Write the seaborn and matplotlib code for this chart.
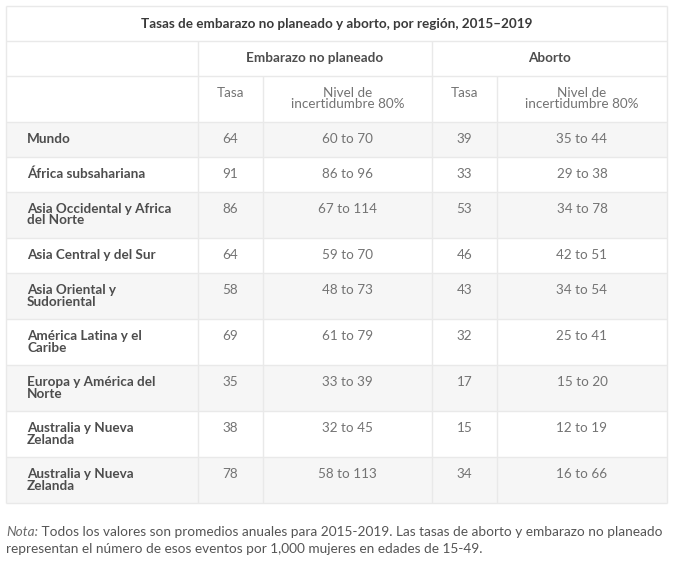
import matplotlib
matplotlib.use("Agg")
import matplotlib.pyplot as plt
from matplotlib.patches import Rectangle
import seaborn as sns

# ---- data ----
title = "Tasas de embarazo no planeado y aborto, por región, 2015–2019"
group_headers = ["Embarazo no planeado", "Aborto"]
sub_headers = ["Tasa", "Nivel de\nincertidumbre 80%", "Tasa", "Nivel de\nincertidumbre 80%"]
regions = ["Mundo", "África subsahariana", "Asia Occidental y Africa\ndel Norte",
           "Asia Central y del Sur", "Asia Oriental y\nSudoriental",
           "América Latina y el\nCaribe", "Europa y América del\nNorte",
           "Australia y Nueva\nZelanda", "Australia y Nueva\nZelanda"]
emb_rate = [64, 91, 86, 64, 58, 69, 35, 38, 78]
emb_lo = [60, 86, 67, 59, 48, 61, 33, 32, 58]
emb_hi = [70, 96, 114, 70, 73, 79, 39, 45, 113]
ab_rate = [39, 33, 53, 46, 43, 32, 17, 15, 34]
ab_lo = [35, 29, 34, 42, 34, 25, 15, 12, 16]
ab_hi = [44, 38, 78, 51, 54, 41, 20, 19, 66]
note_label = "Nota:"
note_text_1 = " Todos los valores son promedios anuales para 2015-2019. Las tasas de aborto y embarazo no planeado"
note_text_2 = "representan el número de esos eventos por 1,000 mujeres en edades de 15-49."

sns.set_theme(style="white")
plt.rcParams['font.family'] = ['Lato', 'DejaVu Sans']

fig = plt.figure(figsize=(6.8, 5.65), dpi=100)
ax = fig.add_axes([0, 0, 1, 1])
ax.set_xlim(0, 680)
ax.set_ylim(565, 0)
ax.axis("off")

BORDER = "#e9e9e9"
ALT = "#f6f6f6"
LABEL_C = "#4d4d4d"
NUM_C = "#737373"
FS = 9.7

cols = [6, 198, 263, 432, 497, 667]
left, right = cols[0], cols[-1]
top = 6
title_h, h1_h, h2_h = 35, 35, 46

def hline(y, x0=left, x1=right):
    ax.plot([x0, x1], [y, y], color=BORDER, lw=1, solid_capstyle="butt", zorder=2)

def vline(x, y0, y1):
    ax.plot([x, x], [y0, y1], color=BORDER, lw=1, solid_capstyle="butt", zorder=2)

def multiline(x, ytop, s, ha, color, weight, step=11.5):
    for i, line in enumerate(s.split("\n")):
        ax.text(x, ytop + i * step, line, ha=ha, va="top", color=color,
                fontsize=FS, fontweight=weight, zorder=3)

# header
y_title_bot = top + title_h
y_h1_bot = y_title_bot + h1_h
y_h2_bot = y_h1_bot + h2_h
ax.text((left + right) / 2, top + title_h / 2, title, ha="center", va="center",
        fontsize=FS, fontweight="bold", color="#3a3a3a", zorder=3)
ax.text((cols[1] + cols[3]) / 2, y_title_bot + h1_h / 2, group_headers[0], ha="center",
        va="center", fontsize=FS, fontweight="bold", color=LABEL_C, zorder=3)
ax.text((cols[3] + cols[5]) / 2, y_title_bot + h1_h / 2, group_headers[1], ha="center",
        va="center", fontsize=FS, fontweight="bold", color=LABEL_C, zorder=3)
for j, sh in enumerate(sub_headers):
    cx = (cols[j + 1] + cols[j + 2]) / 2
    multiline(cx, y_h1_bot + 11, sh, "center", NUM_C, "normal")

# body
y = y_h2_bot
row_tops = []
for i, reg in enumerate(regions):
    nlines = reg.count("\n") + 1
    h = 35 if nlines == 1 else 46
    if i % 2 == 0:
        ax.add_patch(Rectangle((left, y), right - left, h, facecolor=ALT,
                               edgecolor="none", zorder=1))
    ytxt = y + 11
    multiline(27, ytxt, reg, "left", LABEL_C, "bold")
    vals = [str(emb_rate[i]), f"{emb_lo[i]} to {emb_hi[i]}",
            str(ab_rate[i]), f"{ab_lo[i]} to {ab_hi[i]}"]
    for j, v in enumerate(vals):
        cx = (cols[j + 1] + cols[j + 2]) / 2
        ax.text(cx, ytxt, v, ha="center", va="top", color=NUM_C,
                fontsize=FS, zorder=3)
    row_tops.append(y)
    y += h
bottom = y

# grid lines
for yy in [top, y_title_bot, y_h1_bot, y_h2_bot] + row_tops[1:] + [bottom]:
    hline(yy)
vline(left, top, bottom)
vline(right, top, bottom)
vline(cols[1], y_title_bot, bottom)
vline(cols[3], y_title_bot, bottom)
vline(cols[2], y_h1_bot, bottom)
vline(cols[4], y_h1_bot, bottom)

# note
t = ax.text(6, 532, note_label, ha="left", va="center", fontsize=9.8,
            style="italic", color="#6a6a6a")
fig.canvas.draw()
bb = t.get_window_extent(renderer=fig.canvas.get_renderer())
x_after = bb.x1  # pixels, axes maps 1:1 in x
ax.text(x_after, 532, note_text_1, ha="left", va="center", fontsize=9.8, color="#555555")
ax.text(6, 549, note_text_2, ha="left", va="center", fontsize=9.8, color="#555555")

fig.savefig("out.png", dpi=100, facecolor="white")
